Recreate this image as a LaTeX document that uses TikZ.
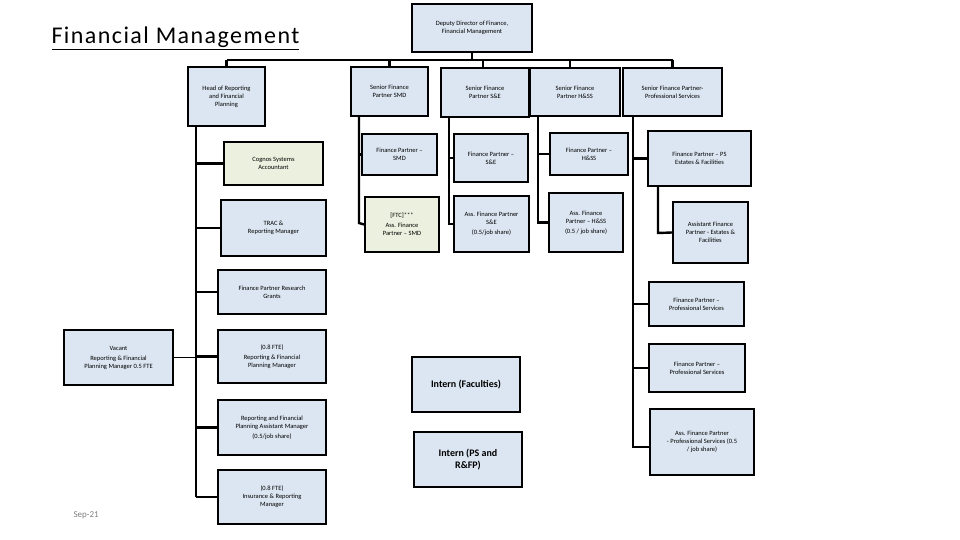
\documentclass[tikz,border=0pt]{standalone}
\usepackage{fontspec}
\setmainfont{Carlito}
\begin{document}
\begin{tikzpicture}[x=1pt,y=-1pt,
  bx/.style={draw=black,line width=2pt,fill=blueF,align=center,font=\fontsize{6.5}{8}\selectfont,inner sep=1pt},
  gr/.style={fill=greenF},
  ln/.style={line width=2.4pt}]
\definecolor{blueF}{HTML}{DCE6F2}
\definecolor{greenF}{HTML}{EBF1DE}
\useasboundingbox (0,0) rectangle (960,540);
\newcommand{\bx}[6][]{\node[bx,#1,minimum width=#4,minimum height=#5] (#2) at #3 {#6};}
% title
\node[anchor=west,font=\fontsize{24}{27}\selectfont\addfontfeature{LetterSpace=6}] (title) at (48,38) {\underline{Financial Management}};
\node[anchor=west,font=\fontsize{9}{10}\selectfont,text=gray] (date) at (70,515) {Sep-21};
% top
\bx{dep}{(472,28)}{120}{48}{Deputy Director of Finance,\\Financial Management}
\bx{head}{(226.5,96.5)}{77}{59}{Head of Reporting\\and Financial\\Planning}
\bx{ssmd}{(389.5,91.5)}{77}{49}{Senior Finance\\Partner SMD}
\bx{sse}{(485,92.5)}{88}{49}{Senior Finance\\Partner S\&E}
\bx{shss}{(575,92)}{90}{48}{Senior Finance\\Partner H\&SS}
\bx{sps}{(672.5,92)}{99}{48}{Senior Finance Partner-\\Professional Services}
\coordinate (busL) at (226.5,60);
\coordinate (busR) at (672.5,60);
\draw[ln] (dep.south) -- (472,60);
\draw[ln] (busL) -- (busR);
\foreach \n/\x in {head/226.5,ssmd/389.5,sse/483,shss/570,sps/672.5}{\draw[ln] (\x,60) -- (\x,60 |- \n.north);}
% left column
\bx[gr]{cog}{(273.5,163.5)}{99}{43}{Cognos Systems\\Accountant}
\bx{trac}{(273.5,228)}{105}{56}{TRAC \&\\Reporting Manager}
\bx{frg}{(272,292)}{108}{44}{Finance Partner Research\\Grants}
\bx{rfp}{(272,356.5)}{108}{53}{(0.8 FTE)\\[2pt]Reporting \& Financial\\Planning Manager}
\bx{rfpa}{(272,427.5)}{108}{55}{Reporting and Financial\\Planning Assistant Manager\\[2pt](0.5/job share)}
\bx{ins}{(272,497)}{108}{54}{(0.8 FTE)\\Insurance \& Reporting\\Manager}
\bx{vac}{(118.5,357.5)}{109}{55}{Vacant\\[2pt]Reporting \& Financial\\Planning Manager 0.5 FTE}
\draw[ln] (196,0 |- head.south) -- (196,497);
\foreach \n in {cog,trac,frg,rfp,rfpa,ins}{\draw[ln] (196,0 |- \n.west) -- (\n.west);}
\draw[line width=0.8pt] (vac.east) -- (196,0 |- vac.east);
% SMD
\bx{fsmd}{(399.5,154.5)}{75}{41}{Finance Partner --\\SMD}
\bx[gr]{asmd}{(402,224.5)}{74}{55}{[FTC]***\\[2pt]Ass. Finance\\Partner -- SMD}
\draw[ln] (359,0 |- ssmd.south) -- (359,223) -- (asmd.west);
\draw[ln] (359,0 |- fsmd.west) -- (fsmd.west);
% S&E
\bx{fse}{(491,158)}{74}{48}{Finance Partner --\\S\&E}
\bx{ase}{(491.5,224)}{75}{56}{Ass. Finance Partner\\S\&E\\[2pt](0.5/job share)}
\draw[ln] (449,0 |- sse.south) -- (449,224) -- (ase.west);
\draw[ln] (449,0 |- fse.west) -- (fse.west);
% H&SS
\bx{fhss}{(589,154)}{78}{42}{Finance Partner --\\H\&SS}
\bx{ahss}{(586,222.5)}{74}{59}{Ass. Finance\\Partner -- H\&SS\\[2pt](0.5 / job share)}
\draw[ln] (538,0 |- shss.south) -- (538,222.5) -- (ahss.west);
\draw[ln] (538,0 |- fhss.west) -- (fhss.west);
% PS
\bx{fpse}{(699.5,158.5)}{103}{55}{Finance Partner -- PS\\Estates \& Facilities}
\bx{afpe}{(710.5,232.5)}{75}{61}{Assistant Finance\\Partner - Estates \&\\Facilities}
\bx{fpp1}{(696.5,304)}{95}{44}{Finance Partner --\\Professional Services}
\bx{fpp2}{(697,368)}{96}{48}{Finance Partner --\\Professional Services}
\bx{afpp}{(702,442)}{104}{66}{Ass. Finance Partner\\- Professional Services (0.5\\/ job share)}
\draw[ln] (633,0 |- sps.south) -- (633,447) -- (650,447);
\foreach \n in {fpse,fpp1,fpp2}{\draw[ln] (633,0 |- \n.west) -- (\n.west);}
\draw[ln] (658,0 |- fpse.south) -- (658,233) -- (afpe.west);
% interns
\node[bx,minimum width=108,minimum height=55,font=\fontsize{10}{12}\selectfont\bfseries] (int1) at (466,384.5) {Intern (Faculties)};
\node[bx,minimum width=108,minimum height=55,font=\fontsize{10}{12}\selectfont\bfseries] (int2) at (468,459.5) {Intern (PS and\\R\&FP)};
\end{tikzpicture}
\end{document}
